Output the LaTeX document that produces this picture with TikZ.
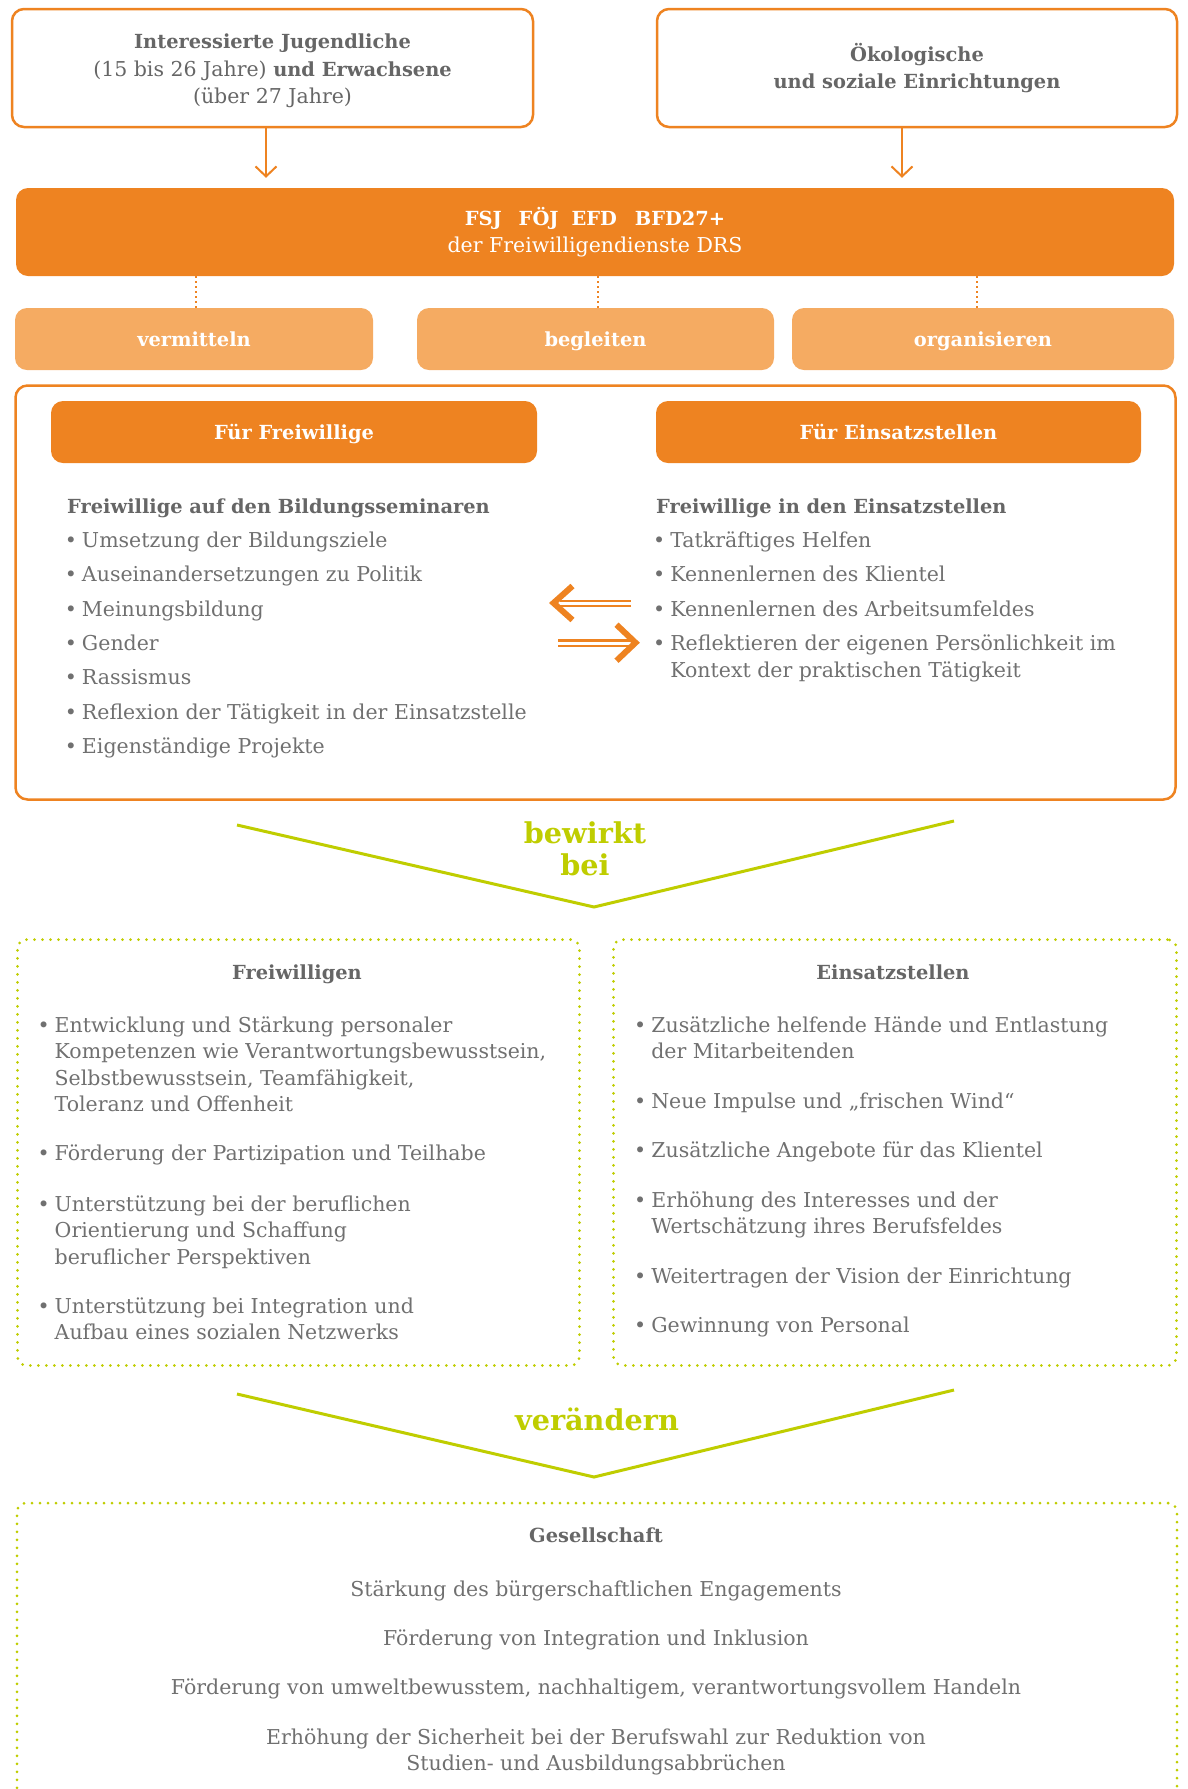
\documentclass[tikz,border=0pt]{standalone}
\usepackage{fontspec}
\setmainfont{DejaVu Serif}
\usetikzlibrary{arrows.meta}
\definecolor{org}{HTML}{EE8321}
\definecolor{lorg}{HTML}{F5AB62}
\definecolor{grn}{HTML}{BFCD00}
\definecolor{txt}{HTML}{707070}
\definecolor{dtxt}{HTML}{666666}
\newcommand{\myrg}{\fontsize{20.5}{27.5}\selectfont}
\newcommand{\mybd}{\fontsize{19.4}{27.5}\selectfont\bfseries}
\newcommand{\myB}[1]{{\mybd #1}}
\newcommand{\mybul}{\makebox[17.1pt][l]{•}}
\tikzset{
  obox/.style={draw=org, line width=2.5pt, rounded corners=12pt, fill=white, text=dtxt, align=center, font=\myrg},
  obar/.style={fill=org, rounded corners=12pt, text=white, align=center, font=\myrg},
  sbox/.style={fill=lorg, rounded corners=12pt, text=white, font=\mybd, text height=14pt, text depth=0pt, minimum height=62pt},
  fbox/.style={fill=org, rounded corners=12pt, text=white, font=\mybd, text height=14pt, text depth=0pt, minimum height=62pt},
  bigbox/.style={draw=org, line width=2.5pt, rounded corners=12pt},
  gbox/.style={draw=grn, line width=3pt, dash pattern=on 0pt off 8pt, line cap=round, rounded corners=9pt},
  li/.style={anchor=base west, inner sep=0pt, text=txt, font=\myrg},
  lc/.style={anchor=base, inner sep=0pt, text=txt, font=\myrg},
  hd/.style={anchor=base west, inner sep=0pt, text=dtxt, font=\mybd},
  hc/.style={anchor=base, inner sep=0pt, text=dtxt, font=\mybd},
  gt/.style={anchor=base, inner sep=0pt, text=grn, font=\fontsize{28.7}{32}\selectfont\bfseries},
  topar/.style={draw=org, line width=2pt, -{Straight Barb[length=10pt,width=21pt,line width=2pt]}, shorten >=10pt},
  dconn/.style={draw=org, line width=2pt, dash pattern=on 2pt off 3pt},
  chev/.style={draw=grn, line width=3pt, line join=miter},
  dshaft/.style={draw=org, line width=2.2pt, double=white, double distance=3.2pt},
  ahead/.style={draw=org, line width=6pt, line join=miter, line cap=butt}
}
\begin{document}
\begin{tikzpicture}[x=1pt,y=-1pt]
\useasboundingbox (0,0) rectangle (1187,1789);

% top boxes
\node[obox, minimum width=521pt, minimum height=118pt] (tl) at (272.5,68) {\rule{0pt}{21pt}\myB{Interessierte Jugendliche}\\(15 bis 26 Jahre) \myB{und Erwachsene}\\(über 27 Jahre)};
\node[obox, minimum width=520pt, minimum height=118pt] (tr) at (917,68) {\rule{0pt}{18pt}\myB{Ökologische}\\\myB{und soziale Einrichtungen}};

% orange bar
\node[obar, minimum width=1158pt, minimum height=88pt] (bar) at (595,232) {\rule{0pt}{17pt}\myB{FSJ\hspace{17pt}FÖJ\hspace{13pt}EFD\hspace{18pt}BFD27+}\\der Freiwilligendienste DRS};

\draw[topar] ([xshift=-6.5pt]tl.south) -- ([xshift=-6.5pt]tl.south |- bar.north);
\draw[topar] ([xshift=-15pt]tr.south) -- ([xshift=-15pt]tr.south |- bar.north);

% sub boxes
\node[sbox, minimum width=358pt] (vm) at (194,339) {vermitteln};
\node[sbox, minimum width=357pt] (bg) at (595.5,339) {begleiten};
\node[sbox, minimum width=382pt] (og) at (983,339) {organisieren};
\draw[dconn] ([xshift=2pt]vm.north |- bar.south) -- ([xshift=2pt]vm.north);
\draw[dconn] ([xshift=2.5pt]bg.north |- bar.south) -- ([xshift=2.5pt]bg.north);
\draw[dconn] ([xshift=-6pt]og.north |- bar.south) -- ([xshift=-6pt]og.north);

% big box
\node[bigbox, minimum width=1160pt, minimum height=414pt] (big) at (595.5,592.5) {};
\node[fbox, minimum width=486pt] (ff) at (294,432) {Für Freiwillige};
\node[fbox, minimum width=485pt] (fe) at (898.5,432) {Für Einsatzstellen};

\node[hd] (h1) at (67,513) {Freiwillige auf den Bildungsseminaren};
\node[li] (a1) at (64.7,547) {\mybul Umsetzung der Bildungsziele};
\node[li] (a2) at (64.7,581) {\mybul Auseinandersetzungen zu Politik};
\node[li] (a3) at (64.7,616) {\mybul Meinungsbildung};
\node[li] (a4) at (64.7,650) {\mybul Gender};
\node[li] (a5) at (64.7,684) {\mybul Rassismus};
\node[li] (a6) at (64.7,719) {\mybul Reflexion der Tätigkeit in der Einsatzstelle};
\node[li] (a7) at (64.7,753) {\mybul Eigenständige Projekte};

\node[hd] (h2) at (656,513) {Freiwillige in den Einsatzstellen};
\node[li] (b1) at (653,547) {\mybul Tatkräftiges Helfen};
\node[li] (b2) at (653,581) {\mybul Kennenlernen des Klientel};
\node[li] (b3) at (653,616) {\mybul Kennenlernen des Arbeitsumfeldes};
\node[li] (b4) at (653,650) {\mybul Reflektieren der eigenen Persönlichkeit im};
\node[li] (b4b) at (670.1,677) {Kontext der praktischen Tätigkeit};

% exchange arrows
\coordinate (la0) at (631,603.5);
\coordinate (la1) at (560,603.5);
\coordinate (lt) at (553.5,603);
\draw[dshaft] (la0) -- (la1);
\draw[ahead] ([shift={(19,-17)}]lt) -- (lt) -- ([shift={(19,17)}]lt);
\coordinate (ra0) at (558,643.2);
\coordinate (ra1) at (630,643.2);
\coordinate (rt) at (635.5,642.7);
\draw[dshaft] (ra0) -- (ra1);
\draw[ahead] ([shift={(-19,-18)}]rt) -- (rt) -- ([shift={(-19,18)}]rt);

% chevron 1
\coordinate (c1l) at (237,825);
\coordinate (c1v) at (594,907);
\coordinate (c1r) at (954,821);
\draw[chev] (c1l) -- (c1v) -- (c1r);
\node[gt] (bw1) at (585,843) {bewirkt};
\node[gt] (bw2) at (585,875) {bei};

% dotted boxes
\node[gbox, minimum width=562pt, minimum height=426pt] (gl) at (298.5,1152.5) {};
\node[gbox, minimum width=563pt, minimum height=426pt] (gr) at (895,1152.5) {};

\node[hc] (h3) at (297,979) {Freiwilligen};
\node[li] (c1) at (37.4,1032) {\mybul Entwicklung und Stärkung personaler};
\node[li] (c1b) at (54.5,1058) {Kompetenzen wie Verantwortungsbewusstsein,};
\node[li] (c1c) at (54.5,1085) {Selbstbewusstsein, Teamfähigkeit,};
\node[li] (c1d) at (54.5,1111) {Toleranz und Offenheit};
\node[li] (c2) at (37.4,1160) {\mybul Förderung der Partizipation und Teilhabe};
\node[li] (c3) at (37.4,1211) {\mybul Unterstützung bei der beruflichen};
\node[li] (c3b) at (54.5,1237) {Orientierung und Schaffung};
\node[li] (c3c) at (54.5,1264) {beruflicher Perspektiven};
\node[li] (c4) at (37.4,1313) {\mybul Unterstützung bei Integration und};
\node[li] (c4b) at (54.5,1339) {Aufbau eines sozialen Netzwerks};

\node[hc] (h4) at (893,979) {Einsatzstellen};
\node[li] (d1) at (634,1032) {\mybul Zusätzliche helfende Hände und Entlastung};
\node[li] (d1b) at (651.1,1058) {der Mitarbeitenden};
\node[li] (d2) at (634,1108) {\mybul Neue Impulse und „frischen Wind“};
\node[li] (d3) at (634,1157) {\mybul Zusätzliche Angebote für das Klientel};
\node[li] (d4) at (634,1207) {\mybul Erhöhung des Interesses und der};
\node[li] (d4b) at (651.1,1233) {Wertschätzung ihres Berufsfeldes};
\node[li] (d5) at (634,1283) {\mybul Weitertragen der Vision der Einrichtung};
\node[li] (d6) at (634,1332) {\mybul Gewinnung von Personal};

% chevron 2
\coordinate (c2l) at (237,1394);
\coordinate (c2v) at (594,1477);
\coordinate (c2r) at (954,1390);
\draw[chev] (c2l) -- (c2v) -- (c2r);
\node[gt] (vd) at (597,1430) {verändern};

% bottom box
\node[gbox, minimum width=1160pt, minimum height=320pt] (gs) at (597,1663) {};
\node[hc] (h5) at (596,1542) {Gesellschaft};
\node[lc] (e1) at (596,1596) {Stärkung des bürgerschaftlichen Engagements};
\node[lc] (e2) at (596,1645) {Förderung von Integration und Inklusion};
\node[lc] (e3) at (596,1694) {Förderung von umweltbewusstem, nachhaltigem, verantwortungsvollem Handeln};
\node[lc] (e4) at (596,1744) {Erhöhung der Sicherheit bei der Berufswahl zur Reduktion von};
\node[lc] (e5) at (596,1770) {Studien- und Ausbildungsabbrüchen};
\end{tikzpicture}
\end{document}
